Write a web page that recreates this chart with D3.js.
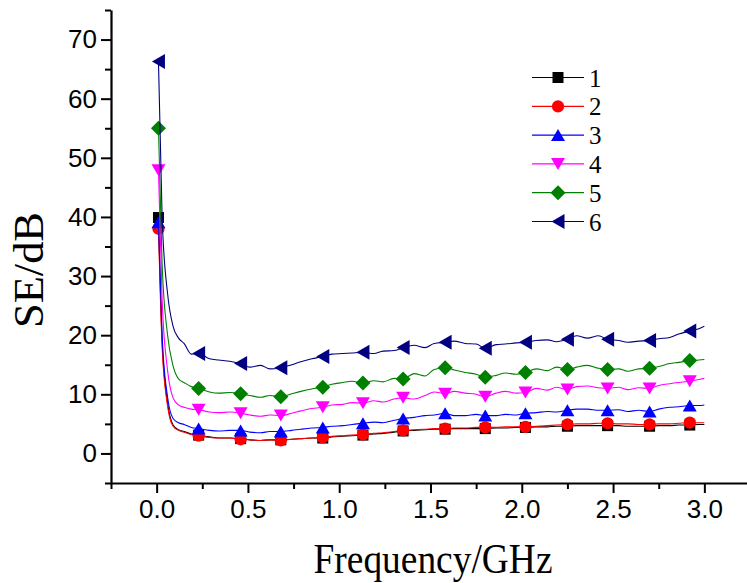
<!DOCTYPE html>
<html>
<head>
<meta charset="utf-8">
<script src="https://cdn.jsdelivr.net/npm/d3@7"></script>
<style>
  body { margin: 0; background: #fff; }
</style>
</head>
<body>
<div class="chart"></div>
<script>
// data
const freq = [0.01, 0.03, 0.06, 0.09, 0.12, 0.15, 0.19,
    0.23, 0.29, 0.34, 0.40, 0.46, 0.51, 0.57, 0.62, 0.68, 0.74, 0.79, 0.85, 0.91, 0.96, 1.02, 1.07,
    1.13, 1.19, 1.24, 1.30, 1.35, 1.41, 1.47, 1.52, 1.58, 1.63, 1.69, 1.75, 1.80, 1.86, 1.91, 1.97,
    2.02, 2.08, 2.14, 2.19, 2.25, 2.30, 2.36, 2.42, 2.47, 2.53, 2.58, 2.64, 2.70, 2.75, 2.81, 2.86,
    2.92, 2.97, 3.00];

const markerFreq = [0.01, 0.23, 0.46, 0.68, 0.91, 1.13, 1.35, 1.58, 1.80, 2.02, 2.25, 2.47, 2.70, 2.92];

const se1 = [39.9, 19, 8.5, 4.8, 4.0, 3.7, 3.3,
    3.1, 2.8, 2.6, 2.6, 2.5, 2.3, 2.2, 2.3, 2.3, 2.4, 2.5, 2.6, 2.6, 2.8, 2.9, 3.0, 3.1,
    3.3, 3.4, 3.6, 3.8, 3.9, 4.0, 4.1, 4.1, 4.2, 4.2, 4.2, 4.2, 4.3, 4.3, 4.4, 4.4,
    4.5, 4.5, 4.6, 4.6, 4.7, 4.7, 4.7, 4.7, 4.7, 4.6, 4.6, 4.6, 4.7, 4.7, 4.8, 4.8, 4.9, 4.9];
const se2 = [38.0, 18, 8.0, 4.6, 3.9, 3.6, 3.2,
    3.0, 2.7, 2.6, 2.6, 2.4, 2.3, 2.2, 2.3, 2.2, 2.4, 2.5, 2.6, 2.7, 2.9, 3.0, 3.1, 3.2,
    3.4, 3.5, 3.7, 3.9, 4.0, 4.1, 4.2, 4.2, 4.3, 4.3, 4.4, 4.4, 4.4, 4.5, 4.5, 4.5,
    4.6, 4.7, 4.8, 4.9, 5.0, 5.0, 5.1, 5.1, 5.0, 5.0, 4.9, 4.9, 5.0, 5.0, 5.1, 5.2, 5.2, 5.2];
const se3 = [39.1, 20, 9.5, 5.9, 5.2, 4.9, 4.4,
    4.2, 3.9, 3.8, 3.9, 3.9, 3.6, 3.5, 3.7, 3.7, 3.9, 4.1, 4.3, 4.4, 4.6, 4.7, 4.9, 5.1,
    5.3, 5.2, 5.6, 5.9, 6.1, 6.4, 6.5, 6.8, 6.4, 6.4, 6.6, 6.4, 6.4, 6.6, 6.5, 6.8,
    6.9, 7.1, 7.0, 7.3, 7.5, 7.5, 7.3, 7.3, 7.4, 7.1, 7.3, 7.1, 7.5, 7.8, 7.9, 8.1, 8.1, 8.2];
const se4 = [47.9, 26, 14, 9.4, 8.2, 7.8, 7.5,
    7.4, 7.0, 6.9, 7.0, 6.8, 6.5, 6.3, 6.5, 6.4, 6.8, 7.2, 7.6, 7.8, 8.2, 8.3, 8.6, 8.5,
    8.9, 8.7, 9.2, 9.4, 9.2, 9.8, 10.4, 10.1, 10.5, 10.2, 10.0, 9.6, 10.2, 10.5, 10.2, 10.3,
    11.0, 10.7, 11.2, 10.8, 11.3, 11.4, 11.1, 11.0, 11.2, 10.8, 11.1, 11.0, 11.5, 11.8, 12.0, 12.2, 12.5, 12.7];
const se5 = [55.0, 32, 20, 14.8, 12.6, 12.0, 11.3,
    11.0, 10.4, 10.2, 10.3, 10.1, 9.8, 9.5, 9.8, 9.6, 10.1, 10.5, 10.9, 11.2, 11.7, 12.0, 12.2, 11.9,
    12.3, 12.1, 12.7, 12.6, 13.5, 13.1, 14.2, 14.5, 14.1, 13.7, 13.4, 12.9, 13.2, 13.6, 13.4, 13.7,
    14.3, 14.0, 14.6, 14.2, 14.6, 14.9, 14.4, 14.2, 14.3, 13.9, 14.3, 14.4, 14.7, 15.2, 15.4, 15.7, 15.8, 15.9];
const se6 = [66.3, 40, 27, 21.5, 19.5, 18.6, 16.8,
    16.9, 16.0, 15.8, 15.6, 15.2, 14.6, 14.9, 14.3, 14.5, 15.0, 15.5, 16.0, 16.4, 16.8, 16.9, 17.0, 17.1,
    16.9, 17.3, 17.4, 17.9, 18.3, 17.9, 18.6, 18.8, 19.0, 18.6, 18.5, 17.8, 18.4, 18.5, 18.7, 18.8,
    19.1, 19.2, 18.9, 19.3, 19.9, 19.5, 19.9, 19.3, 19.1, 18.8, 19.0, 19.1, 19.4, 19.6, 20.2, 20.7, 21.1, 21.5];

const seriesNames = ["1", "2", "3", "4", "5", "6"];
const seriesValues = [se1, se2, se3, se4, se5, se6];

const xMajor = [0.0, 0.5, 1.0, 1.5, 2.0, 2.5, 3.0];
const xMinor = [-0.25, 0.25, 0.75, 1.25, 1.75, 2.25, 2.75];
const yMajor = [0, 10, 20, 30, 40, 50, 60, 70];
const yMinor = [-5, 5, 15, 25, 35, 45, 55, 65, 75];

// looks
const colors = ["#000000", "#ff0000", "#0000ff", "#ff00ff", "#008000", "#000080"];
const shapes = ["square", "circle", "up", "down", "diamond", "left"];

const width = 747;
const height = 583;

const svg = d3.select(".chart")
    .append("svg")
    .attr("width", width)
    .attr("height", height);

const x = d3.scaleLinear().domain([-0.25, 3.25]).range([111, 750]);
const y = d3.scaleLinear().domain([-5, 75]).range([483, 10]);

// marker shapes, centred on the data point
function markerPath(type) {
    switch (type) {
        case "square": return "M-5.5,-5.5h11v11h-11z";
        case "circle": return d3.symbol(d3.symbolCircle, 118)();
        case "up": return "M0,-6L7,6L-7,6Z";
        case "down": return "M0,6L7,-6L-7,-6Z";
        case "diamond": return "M0,-7.5L7.5,0L0,7.5L-7.5,0Z";
        case "left": return "M-6.5,0L6.5,-7.5L6.5,7.5Z";
    }
}

const line = d3.line()
    .x(d => x(d[0]))
    .y(d => y(d[1]))
    .curve(d3.curveMonotoneX);

// series
seriesValues.forEach(function (vals, i) {
    const pts = freq.map((f, j) => [f, vals[j]]);
    const g = svg.append("g").attr("class", "series s" + (i + 1));
    g.append("path")
        .datum(pts)
        .attr("d", line)
        .attr("fill", "none")
        .attr("stroke", colors[i])
        .attr("stroke-width", 1.1);
    g.selectAll("path.mark")
        .data(pts.filter(p => markerFreq.indexOf(p[0]) >= 0))
        .join("path")
        .attr("class", "mark")
        .attr("d", markerPath(shapes[i]))
        .attr("transform", d => `translate(${x(d[0])},${y(d[1])})`)
        .attr("fill", colors[i]);
});

// axes
const tickFont = "'Liberation Sans', Arial, sans-serif";

svg.append("g")
    .attr("transform", "translate(0,483)")
    .call(d3.axisBottom(x).tickValues(xMinor).tickSize(6).tickSizeOuter(0).tickFormat(""))
    .call(g => g.select(".domain").remove())
    .call(g => g.selectAll("line").attr("stroke-width", 2));

svg.append("g")
    .attr("transform", "translate(0,483)")
    .call(d3.axisBottom(x).tickValues(xMajor).tickSize(10).tickSizeOuter(0).tickPadding(7).tickFormat(d3.format(".1f")))
    .call(g => g.select(".domain").attr("stroke-width", 2.2))
    .call(g => g.selectAll("line").attr("stroke-width", 2))
    .call(g => g.selectAll("text").attr("font-size", 26).attr("font-family", tickFont).attr("fill", "#000"));

svg.append("g")
    .attr("transform", "translate(111,0)")
    .call(d3.axisLeft(y).tickValues(yMinor).tickSize(6).tickSizeOuter(0).tickFormat(""))
    .call(g => g.select(".domain").remove())
    .call(g => g.selectAll("line").attr("stroke-width", 2));

svg.append("g")
    .attr("transform", "translate(111,0)")
    .call(d3.axisLeft(y).tickValues(yMajor).tickSize(10).tickSizeOuter(0).tickPadding(4))
    .call(g => g.select(".domain").attr("stroke-width", 2.2))
    .call(g => g.selectAll("line").attr("stroke-width", 2))
    .call(g => g.selectAll("text").attr("font-size", 26).attr("font-family", tickFont).attr("fill", "#000"));

// axis titles
const titleFont = "'Liberation Serif', 'Times New Roman', serif";

svg.append("text")
    .text("Frequency/GHz")
    .attr("x", 433)
    .attr("y", 573)
    .attr("text-anchor", "middle")
    .attr("font-family", titleFont)
    .attr("font-size", 42)
    .attr("textLength", 239)
    .attr("lengthAdjust", "spacingAndGlyphs");

svg.append("text")
    .text("SE/dB")
    .attr("transform", "translate(43,270) rotate(-90)")
    .attr("text-anchor", "middle")
    .attr("font-family", titleFont)
    .attr("font-size", 43)
    .attr("textLength", 116)
    .attr("lengthAdjust", "spacingAndGlyphs");

// legend
const legend = svg.append("g")
    .selectAll("g")
    .data(seriesNames)
    .join("g")
    .attr("transform", (d, i) => `translate(0,${77.5 + i * 28.8})`);

legend.append("line")
    .attr("x1", 532).attr("x2", 584)
    .attr("stroke", (d, i) => colors[i])
    .attr("stroke-width", 1.2);

legend.append("path")
    .attr("d", (d, i) => markerPath(shapes[i]))
    .attr("transform", "translate(558,0)")
    .attr("fill", (d, i) => colors[i]);

legend.append("text")
    .text(d => d)
    .attr("x", 589)
    .attr("y", 9)
    .attr("font-family", titleFont)
    .attr("font-size", 25);
</script>
</body>
</html>
